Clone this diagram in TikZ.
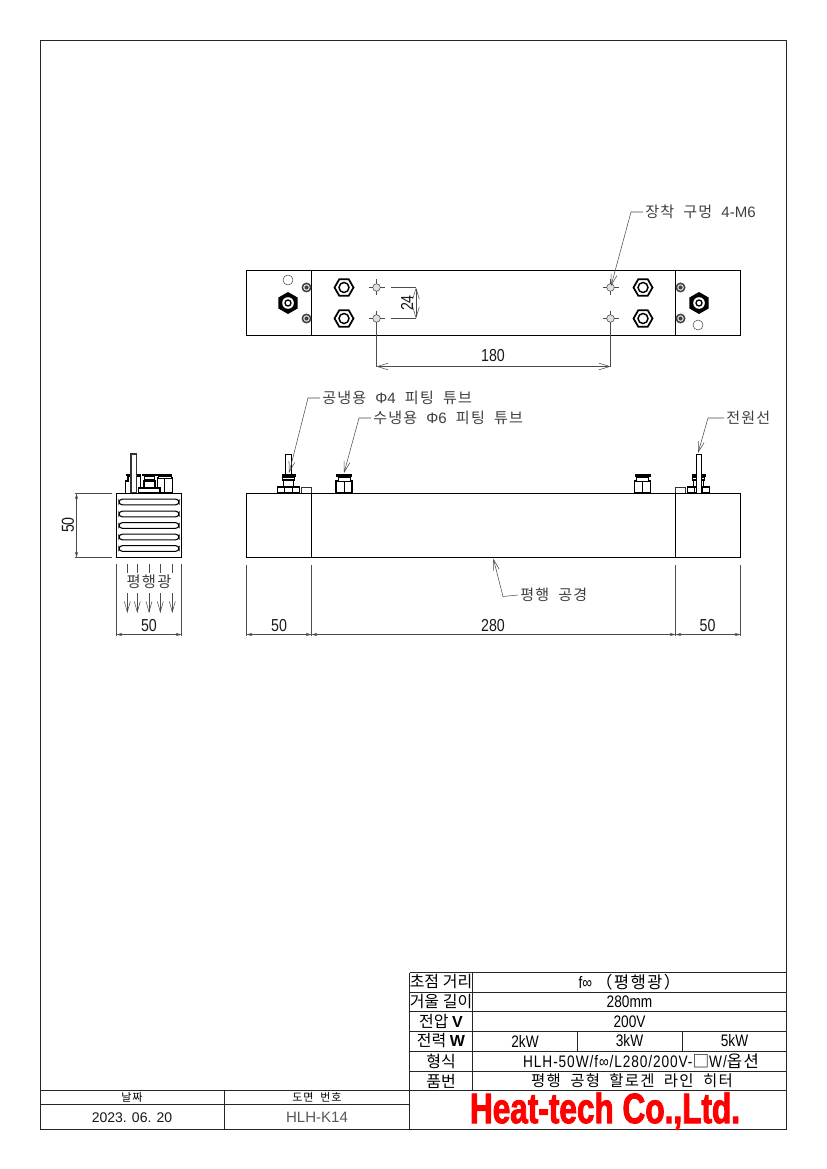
\documentclass[tikz,border=0pt]{standalone}
\usepackage{fontspec}
\usetikzlibrary{arrows.meta}
\setmainfont{Liberation Sans}
\newfontfamily\kr[LetterSpace=8,WordSpace=2]{Noto Sans CJK KR}
\newfontfamily\krh{Noto Sans CJK KR}
\newfontfamily\gm[FakeStretch=.82]{Liberation Sans}
\newfontfamily\gmw[FakeStretch=.82,LetterSpace=5.5]{Liberation Sans}
\newfontfamily\brand[FakeStretch=.74,FakeBold=2]{Liberation Sans Bold}
\definecolor{dimc}{gray}{.3}
\tikzset{
 thick line/.style={line width=1pt,black},
 frame line/.style={line width=.9pt,black!85},
 thin line/.style={line width=.4pt,dimc},
 dim arrows/.style={thin line,{Straight Barb[length=8pt,width=5pt]}-{Straight Barb[length=8pt,width=5pt]}},
 tiny arrows/.style={thin line,{Straight Barb[length=3.5pt,width=2pt]}-{Straight Barb[length=3.5pt,width=2pt]}},
 leader/.style={thin line,-{Straight Barb[length=8pt,width=4.5pt]}},
 down arrow/.style={thin line,-{Straight Barb[length=8pt,width=4.5pt]}},
 dim text/.style={inner sep=0pt,font=\gm\fontsize{13}{13}\selectfont,text=black!90},
 note text/.style={inner sep=1.5pt,anchor=west,font=\kr\fontsize{11.3}{12}\selectfont,text=black!75},
 head text/.style={inner sep=0pt,font=\krh\fontsize{12}{12}\selectfont,text=black},
 cell text/.style={inner sep=0pt,font=\gm\fontsize{12.5}{13}\selectfont,text=black},
 hexbig/.pic={
  \fill[black] (90:11)--(30:11)--(-30:11)--(-90:11)--(-150:11)--(150:11)--cycle;
  \fill[white] (0,0) circle[radius=5.8];
  \draw[line width=1pt,black] (0,0) circle[radius=3];
 },
 hexwater/.pic={
  \draw[line width=1.3pt,black,fill=white] (0:9.5)--(60:9.5)--(120:9.5)--(180:9.5)--(240:9.5)--(300:9.5)--cycle;
  \draw[line width=1.1pt,black] (0,0) circle[radius=5];
 },
 screwhead/.pic={
  \fill[black!75] (0,0) circle[radius=5];
  \fill[white!85!black] (0,0) circle[radius=3.3];
  \fill[black!75] (0,0) circle[radius=2];
 },
 holemark/.pic={
  \draw[thin line,fill=black!12] (0,0) circle[radius=3.8];
  \draw[thin line] (-8,0)--(-3.8,0) (3.8,0)--(8,0) (0,-8)--(0,-3.8) (0,3.8)--(0,8);
 },
 waterfit/.pic={
  \draw[line width=.9pt,black,fill=white] (-8,0) rectangle (8,-12);
  \draw[line width=.6pt,black] (0,0)--(0,-12);
  \draw[line width=.7pt,black,fill=white] (-6,-12) rectangle (6,-16);
  \fill[black] (-8,-16) rectangle (8,-19);
 },
 airfit/.pic={
  \draw[line width=.9pt,black,fill=white] (-11,0) rectangle (11,-6);
  \draw[line width=.6pt,black] (-4,0)--(-4,-6) (4,0)--(4,-6);
  \draw[line width=.9pt,black,fill=white] (-5,-6) rectangle (5,-13);
  \fill[black] (-6,-6) rectangle (6,-7.5);
  \draw[line width=.8pt,black,fill=white] (-6,-13) rectangle (6,-16);
  \fill[black] (-7,-16) rectangle (7,-19);
 },
 capbox/.pic={
  \draw[line width=.7pt,black!80] (0,0)--(0,-5.5)--(10,-5.5)--(10,0);
 },
}
\begin{document}
\begin{tikzpicture}[x=.75pt,y=-.75pt]
\useasboundingbox[fill=white] (0,0) rectangle (826,1169);
% sheet frame
\draw[frame line] (40.5,40.5) rectangle (786.5,1129.5);

% --- top view
\draw[thick line] (246.5,270.5) rectangle (740.5,335.5);
\draw[thick line] (311.5,270.5)--(311.5,335.5) (675.5,270.5)--(675.5,335.5);
\draw[thin line] (288,280) circle[radius=5];
\draw[thin line] (698,325) circle[radius=5];
\pic at (288,303) {hexbig};
\pic at (699,303) {hexbig};
\foreach \px in {306.5,680.5}{\pic at (\px,287.5) {screwhead};\pic at (\px,318.5) {screwhead};}
\foreach \px in {344,643}{\pic at (\px,287.5) {hexwater};\pic at (\px,318.5) {hexwater};}
\foreach \px in {376.5,610.5}{\pic at (\px,287.5) {holemark};\pic at (\px,318.5) {holemark};}

% dimension 24
\coordinate (a24) at (416,287.5);
\coordinate (b24) at (416,318.5);
\draw[thin line] (391,287.5)--(a24) (391,318.5)--(b24);
\draw[dim arrows] (a24)--(b24);
\node[dim text,rotate=90] (t24) at (407,303) {24};
% dimension 180
\coordinate (a180) at (376.5,366.5);
\coordinate (b180) at (610.5,366.5);
\draw[thin line] (376.5,326)--(a180) (610.5,326)--(b180);
\draw[dim arrows] (a180)--(b180);
\node[dim text] (t180) at (493,356) {180};
% mounting hole note
\node[note text] (nhole) at (643,212) {장착 구멍 {\fontspec{Liberation Sans}4-M6}};
\coordinate (chole) at (631,212);
\coordinate (thole) at (611,286);
\draw[leader] (nhole.west)--(chole)--(thole);

% --- side view
\pic at (344,493) {waterfit};
\pic at (642.5,493) {waterfit};
\draw[line width=.6pt,black,fill=white] (285.3,454) rectangle (291,474);
\pic at (288.5,493) {airfit};
\pic at (698.5,493) {airfit};
\draw[line width=.6pt,black,fill=white] (696,454) rectangle (701.7,493);
\pic at (301.5,493) {capbox};
\pic at (675.5,493) {capbox};
\draw[thick line] (246.5,493.5) rectangle (740.5,557.5);
\draw[thick line] (311.5,493.5)--(311.5,557.5) (675.5,493.5)--(675.5,557.5);

% notes on side view
\node[note text] (nair) at (320,398) {공냉용 {\fontspec{Liberation Sans}Φ4} 피팅 튜브};
\coordinate (cair) at (308,398);
\coordinate (tair) at (289,473);
\draw[leader] (nair.west)--(cair)--(tair);
\node[note text] (nwater) at (371,418) {수냉용 {\fontspec{Liberation Sans}Φ6} 피팅 튜브};
\coordinate (cwater) at (359,418);
\coordinate (twater) at (344,473);
\draw[leader] (nwater.west)--(cwater)--(twater);
\node[note text] (npower) at (724,418) {전원선};
\coordinate (cpower) at (708,418);
\coordinate (tpower) at (698,453);
\draw[leader] (npower.west)--(cpower)--(tpower);
\node[note text] (nbore) at (518,595) {평행 공경};
\coordinate (cbore) at (503,596.5);
\coordinate (tbore) at (493.3,558.5);
\draw[leader] (nbore.west)--(cbore)--(tbore);

% dimensions below side view
\coordinate (d1) at (246.5,634.5);
\coordinate (d2) at (311.5,634.5);
\coordinate (d3) at (675.5,634.5);
\coordinate (d4) at (740.5,634.5);
\draw[thin line] (246.5,565)--(246.5,636) (311.5,565)--(311.5,636) (675.5,565)--(675.5,636) (740.5,565)--(740.5,636);
\draw[tiny arrows] (d1)--(d2);
\draw[tiny arrows] (d2)--(d3);
\draw[tiny arrows] (d3)--(d4);
\node[dim text] (t50a) at (279,626) {50};
\node[dim text] (t280) at (493,626) {280};
\node[dim text] (t50b) at (707.5,626) {50};

% --- end view
\draw[line width=.8pt,black,fill=white] (125.7,493)--(125.7,481)--(128,481)--(128,476)--(140.7,476)--(140.7,493);
\fill[black] (125.7,473.5) rectangle (140.7,476);
\draw[line width=.8pt,black,fill=white] (157.3,493) rectangle (172.3,478);
\draw[line width=.6pt,black] (164.8,478)--(164.8,493);
\fill[black] (157.3,473.5) rectangle (172.3,476);
\draw[line width=.6pt,black,fill=white] (158.5,476) rectangle (171,478);
\draw[line width=.8pt,black,fill=white] (144,481) rectangle (155,488);
\fill[black] (142.3,473.5) rectangle (156.7,476);
\fill[black] (144,479) rectangle (155,481.5);
\draw[line width=.6pt,black,fill=white] (144.5,476) rectangle (154.5,479);
\draw[line width=.8pt,black,fill=white] (138.5,488) rectangle (160,493);
\draw[line width=.9pt,black!80,fill=white] (131,454) rectangle (136.3,493);
\draw[thick line,fill=white] (116.5,493.5) rectangle (181.5,557.5);
\foreach \py in {502,514,525.5,537,548.5}{
 \draw[line width=.8pt,black,rounded corners=2.4pt] (119,\py-2.8) rectangle (179,\py+2.8);
}
% end-view width
\coordinate (e1) at (116.5,634.5);
\coordinate (e2) at (181.5,634.5);
\draw[thin line] (116.5,564)--(116.5,636) (181.5,564)--(181.5,636);
\draw[tiny arrows] (e1)--(e2);
\node[dim text] (t50c) at (149,626) {50};
% end-view height
\coordinate (f1) at (76.5,493.5);
\coordinate (f2) at (76.5,557.5);
\draw[thin line] (75,493.5)--(112,493.5) (75,557.5)--(112,557.5);
\draw[tiny arrows] (f1)--(f2);
\node[dim text,rotate=90] (t50d) at (68,525) {50};
% parallel light
\foreach \px in {127.3,137.3,149,160.3,172.3}{
 \draw[thin line] (\px,564)--(\px,573);
 \draw[down arrow] (\px,593)--(\px,613);
}
\node[note text,anchor=center,inner sep=0pt,font=\kr\fontsize{11.5}{12}\selectfont] (nlight) at (149,582) {평행광};

% --- title block
\draw[frame line] (409.5,972.5)--(786.5,972.5);
\foreach \py in {992.5,1011.5,1031.5,1051.5,1071.5,1090.5}{\draw[frame line] (409.5,\py)--(786.5,\py);}
\draw[frame line] (409.5,972.5)--(409.5,1129.5);
\draw[frame line] (472.5,972.5)--(472.5,1090.5);
\draw[frame line] (577.5,1031.5)--(577.5,1051.5) (682.5,1031.5)--(682.5,1051.5);
\draw[frame line] (40.5,1090.5)--(409.5,1090.5) (40.5,1104.5)--(409.5,1104.5) (224.5,1090.5)--(224.5,1129.5);

\node[head text] (h1) at (441,982) {초점 거리};
\node[head text] (h2) at (441,1002) {거울 길이};
\node[head text] (h3) at (441,1021.5) {전압 {\fontspec{Liberation Sans Bold}V}};
\node[head text] (h4) at (441,1041) {전력 {\fontspec{Liberation Sans Bold}W}};
\node[head text] (h5) at (441,1061) {형식};
\node[head text] (h6) at (441,1081) {품번};

\node[cell text] (v1) at (629.5,982) {f∞ {\kr（평행광）}};
\node[cell text] (v2) at (629.5,1002) {280mm};
\node[cell text] (v3) at (629.5,1021.5) {200V};
\node[cell text] (v4a) at (525,1041) {2kW};
\node[cell text] (v4b) at (629.5,1041) {3kW};
\node[cell text] (v4c) at (734.5,1041) {5kW};
\node[cell text,font=\gmw\fontsize{12.5}{13}\selectfont] (v5) at (641,1061) {HLH-50W/f∞/L280/200V-{\krh □}W/{\kr 옵션}};
\node[cell text,font=\kr\fontsize{11.6}{12}\selectfont] (v6) at (632,1081) {평행 공형 할로겐 라인 히터};

\node[inner sep=0pt,font=\kr\fontsize{8.3}{9}\selectfont,text=black] (d1t) at (132,1097) {날짜};
\node[inner sep=0pt,font=\kr\fontsize{8.3}{9}\selectfont,text=black] (d2t) at (317,1097) {도면 번호};
\node[inner sep=0pt,font=\fontsize{10.5}{12}\selectfont,text=black!90] (d1v) at (132,1117.5) {2023. 06. 20};
\node[inner sep=0pt,font=\fontsize{11.3}{12}\selectfont,text=black!65] (d2v) at (317,1117.5) {HLH-K14};

\node[inner sep=0pt,text=red,font=\brand\fontsize{32}{36}\selectfont] (logo) at (605,1111) {Heat-tech Co.,Ltd.};
\end{tikzpicture}
\end{document}
